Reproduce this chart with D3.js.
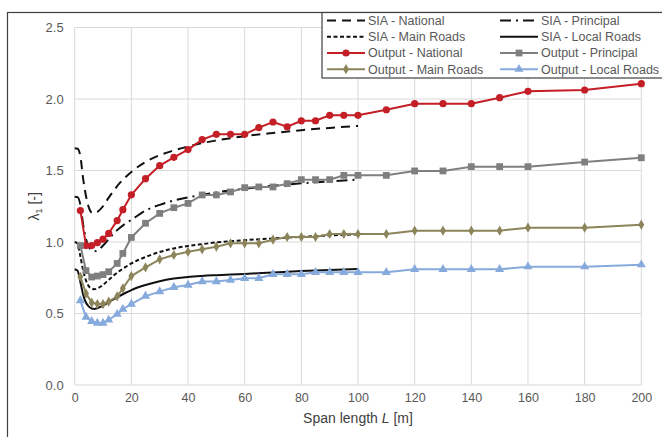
<!DOCTYPE html>
<html><head><meta charset="utf-8">
<script src="https://cdn.jsdelivr.net/npm/d3@7"></script>
<style>
html,body{margin:0;padding:0;background:#fff;}
svg{display:block;font-family:"Liberation Sans",Arial,sans-serif;}
</style></head>
<body>
<svg id="chart" width="662" height="437"></svg>
<script>
// ---- data ----
const spanOut = [2,4,6,8,10,12,15,17,20,25,30,35,40,45,50,55,60,65,70,75,80,85,90,95,100,110,120,130,140,150,160,180,200];
const outNational = [1.22,0.975,0.975,0.995,1.02,1.06,1.15,1.226,1.33,1.443,1.534,1.592,1.646,1.716,1.753,1.753,1.753,1.80,1.839,1.806,1.848,1.848,1.886,1.886,1.886,1.925,1.967,1.967,1.967,2.009,2.054,2.063,2.107];
const outPrincipal = [0.975,0.80,0.755,0.762,0.772,0.792,0.85,0.92,1.032,1.131,1.20,1.24,1.27,1.329,1.329,1.35,1.38,1.385,1.385,1.408,1.436,1.436,1.436,1.466,1.466,1.466,1.497,1.497,1.527,1.527,1.527,1.559,1.589];
const outMainRoads = [0.757,0.64,0.576,0.566,0.566,0.583,0.62,0.676,0.762,0.823,0.879,0.909,0.932,0.949,0.967,0.991,0.991,0.991,1.016,1.035,1.035,1.035,1.056,1.056,1.056,1.056,1.079,1.079,1.079,1.079,1.10,1.10,1.121];
const outLocalRoads = [0.59,0.475,0.445,0.433,0.433,0.455,0.495,0.53,0.566,0.622,0.653,0.683,0.699,0.723,0.723,0.734,0.746,0.746,0.774,0.774,0.774,0.788,0.788,0.788,0.788,0.788,0.809,0.809,0.809,0.809,0.827,0.827,0.841];

const spanSIA = [0,1,2,3,4,5,6,7,8,10,12,14,16,18,20,25,30,35,40,45,50,60,70,80,90,100];
const siaNational = [1.655,1.652,1.60,1.44,1.32,1.24,1.205,1.20,1.21,1.25,1.31,1.365,1.415,1.455,1.49,1.56,1.607,1.64,1.668,1.692,1.71,1.74,1.762,1.782,1.798,1.812];
const siaPrincipal = [1.317,1.314,1.26,1.12,1.02,0.965,0.94,0.935,0.94,0.975,1.02,1.065,1.10,1.13,1.155,1.22,1.26,1.29,1.312,1.33,1.347,1.373,1.393,1.41,1.424,1.436];
const siaMainRoads = [1.0,0.99,0.90,0.80,0.73,0.69,0.675,0.67,0.675,0.70,0.735,0.77,0.80,0.826,0.85,0.895,0.93,0.955,0.972,0.985,0.997,1.013,1.025,1.036,1.046,1.054];
const siaLocalRoads = [0.81,0.80,0.72,0.63,0.575,0.548,0.535,0.532,0.537,0.555,0.58,0.603,0.624,0.645,0.664,0.699,0.726,0.744,0.756,0.763,0.768,0.777,0.787,0.797,0.805,0.812];

const xTicks = [0,20,40,60,80,100,120,140,160,180,200];
const yTicks = [0,0.5,1.0,1.5,2.0,2.5];

// ---- series styling ----
const siaSeries = [
  {name:"SIA - National", vals:siaNational, dash:"9,6"},
  {name:"SIA - Principal", vals:siaPrincipal, dash:"11,5,2,5"},
  {name:"SIA - Main Roads", vals:siaMainRoads, dash:"4,2.5"},
  {name:"SIA - Local Roads", vals:siaLocalRoads, dash:null}
];
const outSeries = [
  {name:"Output - National", vals:outNational, color:"#c41e26", marker:"circle"},
  {name:"Output - Principal", vals:outPrincipal, color:"#7f7f7f", marker:"square"},
  {name:"Output - Main Roads", vals:outMainRoads, color:"#8c845a", marker:"diamond"},
  {name:"Output - Local Roads", vals:outLocalRoads, color:"#86aadc", marker:"triangle"}
];

const svg = d3.select("#chart");
const x = d3.scaleLinear().domain([0,200]).range([74.7,641.3]);
const y = d3.scaleLinear().domain([0,2.5]).range([385,27.5]);

// outer border
svg.append("rect").attr("x",7.5).attr("y",12.5).attr("width",720).attr("height",500)
  .attr("fill","#fff").attr("stroke","#404040").attr("stroke-width",1.2);

// gridlines
const g = svg.append("g");
g.selectAll(".hg").data(yTicks).join("line")
  .attr("x1",x(0)).attr("x2",x(200)).attr("y1",d=>y(d)).attr("y2",d=>y(d))
  .attr("stroke","#d9d9d9").attr("stroke-width",1);
g.selectAll(".vg").data(xTicks).join("line")
  .attr("y1",y(0)).attr("y2",y(2.5)).attr("x1",d=>x(d)).attr("x2",d=>x(d))
  .attr("stroke","#d9d9d9").attr("stroke-width",1);

// axes (labels only)
const xAxis = d3.axisBottom(x).tickValues(xTicks).tickSize(0).tickPadding(8).tickFormat(d3.format("d"));
const xa = svg.append("g").attr("transform",`translate(0,${y(0)})`).call(xAxis);
xa.select(".domain").remove();
xa.selectAll("text").attr("fill","#595959").attr("font-size","12.5px").attr("font-family","Liberation Sans, Arial, sans-serif");

const yAxis = d3.axisLeft(y).tickValues(yTicks).tickSize(0).tickPadding(11).tickFormat(d3.format(".1f"));
const ya = svg.append("g").attr("transform",`translate(${x(0)},0)`).call(yAxis);
ya.select(".domain").remove();
ya.selectAll("text").attr("fill","#595959").attr("font-size","13px").attr("font-family","Liberation Sans, Arial, sans-serif");

// axis titles
const xt = svg.append("text").attr("x",(x(0)+x(200))/2).attr("y",423).attr("text-anchor","middle")
  .attr("font-size","14px").attr("fill","#404040");
xt.append("tspan").text("Span length ");
xt.append("tspan").attr("font-style","italic").text("L");
xt.append("tspan").text(" [m]");

const yt = svg.append("text").attr("transform",`translate(39,${(y(0)+y(2.5))/2}) rotate(-90)`)
  .attr("text-anchor","middle").attr("font-size","14px").attr("fill","#404040");
yt.append("tspan").text("λ");
yt.append("tspan").attr("font-size","9px").attr("dy","3").text("1");
yt.append("tspan").attr("dy","-3").text(" [-]");

// SIA curves
const siaLine = d3.line().x((d,i)=>x(spanSIA[i])).y(d=>y(d)).curve(d3.curveMonotoneX);
siaSeries.forEach(s=>{
  svg.append("path").attr("d",siaLine(s.vals)).attr("fill","none")
    .attr("stroke","#111").attr("stroke-width",2)
    .attr("stroke-dasharray",s.dash);
});

// marker helper
function marker(sel, type, color){
  if(type==="circle") return sel.append("circle").attr("r",3.6).attr("fill",color);
  const sym = {square:d3.symbolSquare, diamond:d3.symbolDiamond, triangle:d3.symbolTriangle}[type];
  const size = {square:46, diamond:30, triangle:36}[type];
  return sel.append("path").attr("d",d3.symbol().type(sym).size(size)()).attr("fill",color);
}

// output series
const outLine = d3.line().x((d,i)=>x(spanOut[i])).y(d=>y(d));
outSeries.forEach(s=>{
  svg.append("path").attr("d",outLine(s.vals)).attr("fill","none")
    .attr("stroke",s.color).attr("stroke-width",2);
  s.vals.forEach((v,i)=>{
    const mg = svg.append("g").attr("transform",`translate(${x(spanOut[i])},${y(v)})`);
    marker(mg, s.marker, s.color);
  });
});

// legend
const lg = svg.append("g");
lg.append("rect").attr("x",322).attr("y",12.5).attr("width",400).attr("height",65.5)
  .attr("fill","#fff").attr("stroke","#404040").attr("stroke-width",1.2);
const rowsY = [20.5,36.7,53,69.2];
const cols = [{x0:327,x1:365,tx:368},{x0:500,x1:538,tx:541}];
const legendItems = [
  {s:siaSeries[0],r:0,c:0,type:"sia"},{s:siaSeries[1],r:0,c:1,type:"sia"},
  {s:siaSeries[2],r:1,c:0,type:"sia"},{s:siaSeries[3],r:1,c:1,type:"sia"},
  {s:outSeries[0],r:2,c:0,type:"out"},{s:outSeries[1],r:2,c:1,type:"out"},
  {s:outSeries[2],r:3,c:0,type:"out"},{s:outSeries[3],r:3,c:1,type:"out"}
];
legendItems.forEach(it=>{
  const c = cols[it.c], yy = rowsY[it.r];
  const ln = lg.append("line").attr("x1",c.x0).attr("x2",c.x1).attr("y1",yy).attr("y2",yy)
    .attr("stroke-width",2);
  if(it.type==="sia"){
    ln.attr("stroke","#111").attr("stroke-dasharray",it.s.dash);
  } else {
    ln.attr("stroke",it.s.color);
    const mg = lg.append("g").attr("transform",`translate(${(c.x0+c.x1)/2},${yy})`);
    marker(mg, it.s.marker, it.s.color);
  }
  lg.append("text").attr("x",c.tx).attr("y",yy).attr("dy","0.35em")
    .attr("font-size","12.5px").attr("fill","#595959").text(it.s.name);
});
</script>
</body></html>
